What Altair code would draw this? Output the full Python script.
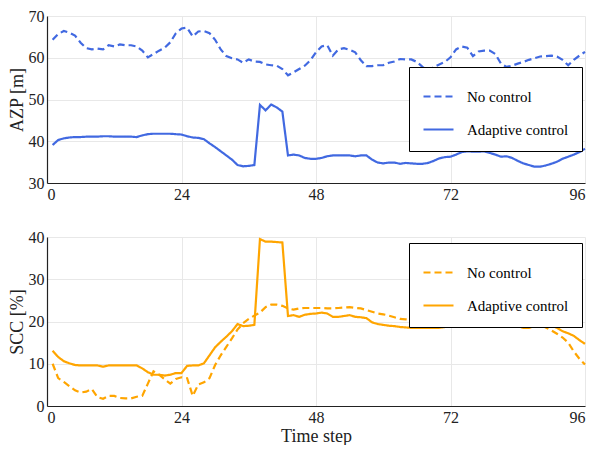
import altair as alt
import pandas as pd

steps = list(range(1, 97))
series_names = ["No control", "Adaptive control"]
x_ticks = [0, 24, 48, 72, 96]
azp_ticks = [30, 40, 50, 60, 70]
scc_ticks = [0, 10, 20, 30, 40]

azp_no_control = [
    64.3, 65.7, 66.4, 66.0, 65.3, 63.6, 62.3, 62.0, 62.2, 62.0,
    63.0, 62.7, 63.2, 63.0, 63.0, 62.7, 61.7, 60.1, 60.9, 61.7,
    62.4, 63.7, 65.9, 67.0, 67.2, 65.1, 66.3, 66.4, 65.9, 64.3,
    62.0, 60.4, 59.9, 59.6, 58.8, 59.6, 59.1, 59.0, 58.4, 58.2,
    58.1, 57.3, 55.8, 56.5, 57.3, 58.1, 59.4, 61.3, 62.7, 63.0,
    60.5, 62.0, 62.3, 61.9, 61.3, 59.4, 58.0, 58.0, 58.2, 58.2,
    58.8, 59.1, 59.7, 59.6, 59.6, 59.0, 57.8, 56.8, 57.8, 58.4,
    59.0, 60.1, 62.0, 62.7, 62.4, 60.4, 61.5, 61.7, 61.7, 60.9,
    58.6, 57.8, 58.1, 58.6, 59.0, 59.5, 59.9, 60.3, 60.4, 60.5,
    60.3, 59.5, 58.2, 59.5, 60.5, 61.4,
]
azp_adaptive = [
    39.1, 40.3, 40.7, 40.9, 41.0, 41.0, 41.1, 41.1, 41.1, 41.2,
    41.2, 41.1, 41.1, 41.1, 41.1, 41.0, 41.4, 41.7, 41.8, 41.8,
    41.8, 41.8, 41.7, 41.6, 41.2, 40.9, 40.8, 40.5, 39.5, 38.6,
    37.6, 36.6, 35.6, 34.3, 34.0, 34.1, 34.3, 48.7, 47.4, 48.8,
    48.1, 47.1, 36.6, 36.8, 36.6, 36.0, 35.8, 35.8, 36.0, 36.4,
    36.6, 36.6, 36.6, 36.6, 36.4, 36.6, 36.6, 35.6, 34.9, 34.7,
    34.9, 34.9, 34.6, 34.8, 34.7, 34.6, 34.6, 34.8, 35.3, 35.9,
    36.2, 36.3, 36.8, 37.4, 37.6, 37.5, 37.5, 37.6, 37.2, 36.8,
    36.3, 36.4, 36.0, 35.3, 34.7, 34.3, 33.9, 33.9, 34.2, 34.6,
    35.1, 35.8, 36.3, 36.8, 37.4, 38.2,
]
scc_no_control = [
    10.0, 6.6, 5.7, 4.7, 3.7, 3.2, 3.4, 4.0, 2.1, 1.7,
    2.4, 2.4, 1.9, 1.8, 1.8, 2.2, 2.4, 5.3, 8.2, 7.4,
    6.3, 5.3, 6.4, 6.8, 6.6, 2.4, 5.1, 5.6, 6.6, 9.7,
    12.0, 14.0, 16.0, 18.1, 19.6, 20.6, 21.4, 22.1, 23.4, 24.0,
    24.0, 23.7, 23.1, 22.8, 23.1, 23.2, 23.2, 23.2, 23.2, 23.1,
    23.1, 23.2, 23.3, 23.4, 23.2, 23.1, 22.7, 22.3, 21.9, 21.7,
    21.4, 21.0, 20.6, 20.5, 20.4, 20.4, 20.2, 20.0, 20.0, 20.8,
    21.5, 22.1, 22.8, 23.6, 23.8, 24.2, 24.6, 24.8, 24.2, 23.3,
    22.7, 22.7, 22.7, 21.5, 20.4, 20.0, 19.8, 19.2, 18.6, 17.9,
    17.1, 16.2, 15.0, 12.9, 11.2, 9.8,
]
scc_adaptive = [
    13.1, 11.6, 10.6, 10.1, 9.7, 9.6, 9.6, 9.6, 9.6, 9.3,
    9.6, 9.6, 9.6, 9.6, 9.6, 9.6, 8.9, 8.0, 7.4, 7.4,
    7.2, 7.4, 7.8, 7.8, 9.5, 9.6, 9.6, 10.1, 12.0, 13.9,
    15.2, 16.4, 17.7, 19.4, 18.9, 19.0, 19.2, 39.5, 38.9, 38.9,
    38.8, 38.7, 21.3, 21.5, 21.1, 21.6, 21.8, 21.9, 22.1, 21.9,
    21.1, 21.1, 21.3, 21.5, 21.1, 21.0, 20.8, 19.8, 19.4, 19.2,
    19.0, 18.9, 18.7, 18.6, 18.5, 18.5, 18.5, 18.5, 18.5, 18.5,
    18.7, 19.4, 20.5, 22.1, 22.8, 22.8, 23.2, 23.6, 22.7, 21.5,
    20.5, 20.4, 20.2, 18.9, 18.5, 18.5, 18.9, 19.2, 19.2, 19.0,
    18.5, 17.7, 17.2, 16.6, 15.6, 14.7,
]

SERIF = "Liberation Serif"
INK = "#222222"


def make_df(nc, ac):
    return pd.DataFrame({
        "step": steps + steps,
        "value": nc + ac,
        "series": [series_names[0]] * len(nc) + [series_names[1]] * len(ac),
    })


def panel(df, color, ytitle, ydom, yvals, legend_y, height, xtitle=None):
    xaxis = alt.Axis(values=x_ticks, title=xtitle, labelFont=SERIF, titleFont=SERIF)
    return alt.Chart(df).mark_line(color=color, strokeWidth=2.2).encode(
        x=alt.X("step:Q", scale=alt.Scale(domain=[0, 96], nice=False, zero=False), axis=xaxis),
        y=alt.Y("value:Q", scale=alt.Scale(domain=ydom, nice=False, zero=False),
                axis=alt.Axis(values=yvals, title=ytitle, labelFont=SERIF, titleFont=SERIF)),
        strokeDash=alt.StrokeDash(
            "series:N",
            scale=alt.Scale(domain=series_names, range=[[7, 4], [1, 0]]),
            legend=alt.Legend(
                title=None, orient="none", legendX=362, legendY=legend_y,
                direction="vertical", fillColor="white", strokeColor="black",
                padding=13, cornerRadius=0, symbolType="stroke", symbolSize=900,
                symbolStrokeWidth=2.2, symbolStrokeColor=color,
                labelFont=SERIF, labelFontSize=15, labelColor="black",
                labelOffset=12, rowPadding=8,
            ),
        ),
        order=alt.Order("step:Q"),
    ).properties(width=538, height=height)


top = panel(make_df(azp_no_control, azp_adaptive), "#4169E1", "AZP [m]",
            [30, 70], azp_ticks, 51, 167)
bottom = panel(make_df(scc_no_control, scc_adaptive), "#FFA500", "SCC [%]",
               [0, 40], scc_ticks, 6, 169, xtitle="Time step")

chart = alt.vconcat(top, bottom, spacing=27).resolve_scale(
    strokeDash="independent"
).resolve_legend(strokeDash="independent").properties(
    padding={"left": 0, "top": 0, "right": 0, "bottom": 0}
).configure_view(strokeWidth=0).configure_axis(
    grid=True, gridColor="#e8e8e8", gridWidth=1,
    domainColor=INK, domainWidth=1.2, ticks=False,
    labelFont=SERIF, labelFontSize=16, labelColor=INK, labelPadding=3,
    titleFont=SERIF, titleFontSize=18, titleFontWeight="normal", titleColor=INK,
    titlePadding=2,
).configure_legend(labelFont=SERIF)

chart.save("out.html", embed_options={"renderer": "svg", "actions": False})
